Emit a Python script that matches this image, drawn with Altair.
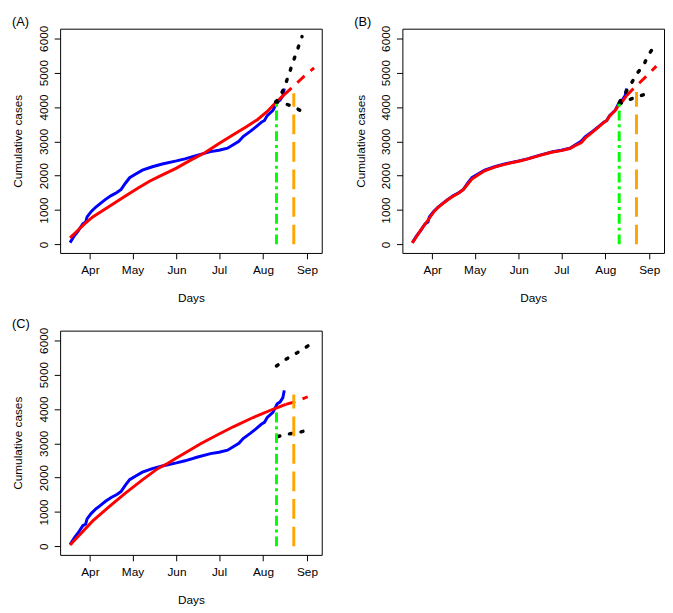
import json
import altair as alt
import pandas as pd

# ---------------- data (days counted from 1 April) ----------------
month_labels = ["Apr", "May", "Jun", "Jul", "Aug", "Sep"]
month_ticks = [0, 30, 61, 91, 122, 153]
y_ticks = [0, 1000, 2000, 3000, 4000, 5000, 6000]

obs_day = [-14, -11, -8, -5, -3, -2, 1, 4, 7, 11, 15, 19, 22, 25, 28, 32, 37, 44, 51, 61,
           67, 76, 85, 91, 97, 101, 105, 108, 113, 117, 121, 123, 125, 129, 132, 134, 136, 137]
obs_cases = [50, 250, 410, 600, 650, 800, 960, 1080, 1180, 1310, 1420, 1510, 1600, 1780, 1940, 2040,
             2160, 2260, 2340, 2430, 2490, 2600, 2700, 2740, 2800, 2900, 3000, 3140, 3290, 3420,
             3560, 3610, 3750, 3900, 4150, 4200, 4330, 4540]

# Panel A
a_fit_day = [-14, -9, -4, 2, 8, 16, 25, 34, 42, 50, 61, 70, 81, 91, 101, 110, 118, 125, 131, 137]
a_fit_cases = [190, 390, 590, 800, 960, 1170, 1410, 1640, 1840, 2000, 2220, 2430, 2665, 2940, 3190,
               3420, 3630, 3870, 4130, 4360]
a_fc_day = [137, 142, 148, 153, 158]
a_fc_cases = [4360, 4550, 4780, 4970, 5140]
a_hi_day = [131, 134, 137, 140, 143, 146, 149.5]
a_hi_cases = [4140, 4300, 4570, 4920, 5290, 5640, 6050]
a_lo_day = [131, 138, 145, 153]
a_lo_cases = [4150, 4090, 3980, 3780]

# Panel B
b_fit_day = [-14, -11, -8, -5, -2, 1, 4, 7, 11, 15, 19, 22, 25, 28, 32, 37, 44, 51, 61, 67, 76, 85,
             91, 97, 101, 105, 108, 113, 117, 121, 123, 125, 129, 132, 134, 137]
b_fit_cases = [40, 230, 420, 590, 760, 940, 1070, 1170, 1300, 1410, 1500, 1600, 1750, 1900, 2010,
               2140, 2250, 2330, 2420, 2480, 2590, 2690, 2730, 2790, 2880, 2960, 3100, 3270, 3410,
               3550, 3600, 3730, 3900, 4080, 4160, 4330]
b_fc_day = [137, 141, 146, 151, 158]
b_fc_cases = [4330, 4500, 4700, 4900, 5190]
b_hi_day = [132, 136, 140, 144, 149, 152, 157]
b_hi_cases = [4140, 4400, 4660, 4960, 5210, 5490, 5800]
b_lo_day = [132, 140, 147, 155]
b_lo_cases = [4090, 4230, 4330, 4440]

# Panel C
c_fit_day = [-14, -6, 2, 14, 25, 37, 48, 55, 61, 70, 78, 90, 101, 115, 129, 138]
c_fit_cases = [40, 390, 740, 1170, 1550, 1935, 2268, 2420, 2570, 2790, 2986, 3250, 3480, 3750,
               3991, 4134]
c_fc_day = [138, 145, 153.5]
c_fc_cases = [4134, 4212, 4355]
c_hi_day = [131.5, 138.5, 146.5, 154.5]
c_hi_cases = [5250, 5455, 5647, 5857]
c_lo_day = [132.5, 140.5, 147.5, 154.5]
c_lo_cases = [3198, 3273, 3322, 3388]

# vertical markers: [green, orange]
vline_day = {"A": [131.5, 143.7], "B": [131.8, 144.0], "C": [131.5, 143.7]}
vline_top = {"A": [4100, 4400], "B": [4100, 4440], "C": [3990, 4420]}

FONT = "Liberation Sans"

label_expr = "{}[indexof({}, datum.value)]".format(json.dumps(month_labels), json.dumps(month_ticks))

xs = alt.Scale(domain=[-21, 163.4], nice=False, zero=False)
ys = alt.Scale(domain=[-250, 6280], nice=False, zero=False)

x_axis = alt.Axis(values=month_ticks, labelExpr=label_expr, title="Days",
                  labelPadding=6, titlePadding=17)
y_axis = alt.Axis(values=y_ticks, format="d", labelAngle=270, labelAlign="center",
                  labelBaseline="bottom", title="Cumulative cases", labelPadding=4, titlePadding=13)


def df(d, c):
    return pd.DataFrame({"day": d, "cases": c})


def line(data, color, dash=None, width=3, cap="butt"):
    kw = dict(color=color, strokeWidth=width, strokeCap=cap, clip=True)
    if dash is not None:
        kw["strokeDash"] = dash
    return alt.Chart(data).mark_line(**kw).encode(
        x=alt.X("day:Q", scale=xs, axis=x_axis),
        y=alt.Y("cases:Q", scale=ys, axis=y_axis),
    )


def panel(name, fit, fc, hi, lo):
    obs = line(df(obs_day, obs_cases), "#0000FF")
    fit_l = line(df(*fit), "#FF0000")
    fc_l = line(df(*fc), "#FF0000", dash=[10, 8])
    hi_l = line(df(*hi), "#000000", dash=[2, 10], width=3.5, cap="round")
    lo_l = line(df(*lo), "#000000", dash=[2, 10], width=3.5, cap="round")
    v = pd.DataFrame({"day": vline_day[name], "y0": [0, 0], "y1": vline_top[name]})
    green = alt.Chart(v.iloc[[0]]).mark_rule(color="#00FF00", strokeWidth=3,
                                              strokeDash=[10, 4, 3, 4]).encode(
        x=alt.X("day:Q", scale=xs, axis=x_axis),
        y=alt.Y("y0:Q", scale=ys, axis=y_axis), y2="y1:Q")
    orange = alt.Chart(v.iloc[[1]]).mark_rule(color="#FFA500", strokeWidth=3,
                                               strokeDash=[20, 8]).encode(
        x=alt.X("day:Q", scale=xs, axis=x_axis),
        y=alt.Y("y0:Q", scale=ys, axis=y_axis), y2="y1:Q")
    return alt.layer(obs, fit_l, fc_l, hi_l, lo_l, green, orange).properties(
        width=266, height=228,
        title=alt.TitleParams(text=f"({name})", anchor="start", frame="bounds", fontSize=13,
                              fontWeight="normal", font=FONT, color="#000000", offset=-4),
    )


pA = panel("A", (a_fit_day, a_fit_cases), (a_fc_day, a_fc_cases), (a_hi_day, a_hi_cases),
           (a_lo_day, a_lo_cases))
pB = panel("B", (b_fit_day, b_fit_cases), (b_fc_day, b_fc_cases), (b_hi_day, b_hi_cases),
           (b_lo_day, b_lo_cases))
pC = panel("C", (c_fit_day, c_fit_cases), (c_fc_day, c_fc_cases), (c_hi_day, c_hi_cases),
           (c_lo_day, c_lo_cases))

chart = alt.vconcat(alt.hconcat(pA, pB, spacing=31), pC, spacing=13).properties(
    padding={"left": 3, "top": 2, "right": 0, "bottom": 0}, background="white"
).configure_view(stroke="#000000", strokeWidth=1).configure_axis(
    grid=False, domain=False, tickSize=6, tickColor="#000000", tickWidth=1,
    labelFont=FONT, labelFontSize=12, labelColor="#000000",
    titleFont=FONT, titleFontSize=12, titleFontWeight="normal", titleColor="#000000",
)

chart.save("out.html", embed_options={"renderer": "svg", "actions": False})
